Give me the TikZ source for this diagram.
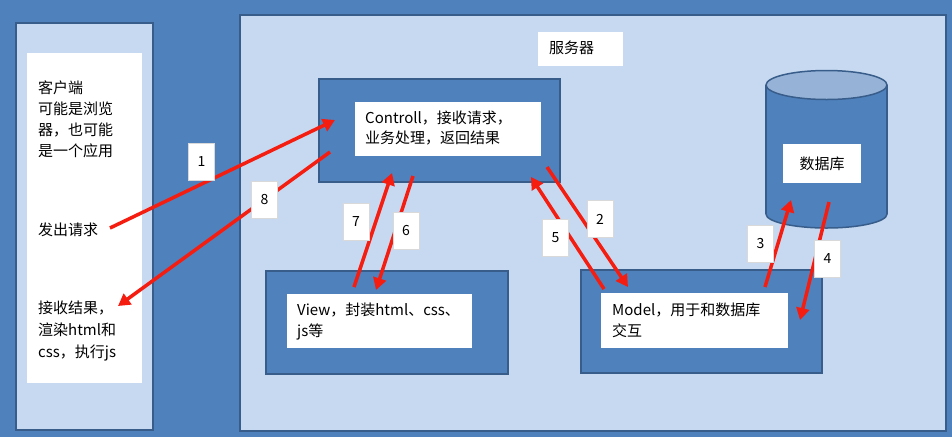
\documentclass[tikz,border=0pt]{standalone}
\usepackage{fontspec}
\setmainfont{Noto Sans CJK SC}
\usetikzlibrary{arrows.meta}
\definecolor{bgblue}{RGB}{79,129,189}
\definecolor{edgeblue}{RGB}{56,93,138}
\definecolor{paleblue}{RGB}{198,217,240}
\definecolor{topblue}{RGB}{150,178,214}
\definecolor{flowred}{RGB}{245,28,16}
\begin{document}
\begin{tikzpicture}[x=1pt, y=-1pt,
  panel/.style={draw=edgeblue, line width=2.5pt, fill=paleblue, inner sep=0pt},
  block/.style={draw=edgeblue, line width=1.5pt, fill=bgblue, inner sep=0pt},
  card/.style={fill=white, inner sep=0pt},
  words/.style={anchor=west, align=left, inner sep=0pt, font=\fontsize{15}{21}\selectfont},
  numcard/.style={fill=white, draw=black!15, inner sep=0pt, minimum width=26pt, minimum height=37pt, font=\fontsize{14}{16}\selectfont},
  flow/.style={-{Triangle[length=12pt,width=13pt]}, draw=flowred, line width=3.5pt}]
\useasboundingbox (0,0) rectangle (952,437);
\fill[bgblue] (0,0) rectangle (952,437);
% client side
\node[panel, minimum width=137pt, minimum height=407pt] (client) at (84.5,226.5) {};
\node[card, minimum width=115pt, minimum height=330pt] (clientcard) at (84.5,218) {};
\node[words] (clientname) at (38,119.5) {客户端\\可能是浏览\\器，也可能\\是一个应用};
\node[words] (req) at (38,230) {发出请求};
\node[words, font=\fontsize{15}{22}\selectfont] (res) at (38,331) {接收结果，\\渲染html和\\css，执行js};
% server side
\node[panel, minimum width=706pt, minimum height=416pt] (server) at (593,223) {};
\node[card, minimum width=85pt, minimum height=34pt] (servercard) at (580.5,49) {};
\node[words] (servername) at (549,48) {服务器};
\node[block, minimum width=241pt, minimum height=103pt] (ctrl) at (439.5,130.5) {};
\node[card, minimum width=186pt, minimum height=54pt] (ctrlcard) at (448,129) {};
\node[words, font=\fontsize{15}{20}\selectfont] (ctrltext) at (365,128) {Controll，接收请求，\\业务处理，返回结果};
\node[block, minimum width=242pt, minimum height=103pt] (view) at (387,322.5) {};
\node[card, minimum width=185pt, minimum height=54pt] (viewcard) at (379.5,321) {};
\node[words] (viewtext) at (297,321.5) {View，封装html、css、\\js等};
\node[block, minimum width=241pt, minimum height=103pt] (model) at (701.5,321.5) {};
\node[card, minimum width=187pt, minimum height=55pt] (modelcard) at (694.5,320.5) {};
\node[words] (modeltext) at (612,320.5) {Model，用于和数据库\\交互};
% database
\draw[draw=edgeblue, line width=1.5pt, fill=bgblue] (826.5,214) ellipse [x radius=60.5, y radius=14];
\fill[bgblue] (766,85) rectangle (887,214);
\draw[draw=edgeblue, line width=1.5pt] (766,85) -- (766,214) (887,85) -- (887,214);
\draw[draw=edgeblue, line width=1.5pt, fill=topblue] (826.5,85) ellipse [x radius=60.5, y radius=14.5];
\node[card, minimum width=78pt, minimum height=39pt, font=\fontsize{15}{21}\selectfont] (db) at (822,163.5) {数据库};
% arrow ends
\coordinate (reqout) at (110,228);
\coordinate (ctrlin) at (335,120);
\coordinate (ctrlout) at (330,152);
\coordinate (resin) at (118,306);
\coordinate (ctrlmodel) at (547,167);
\coordinate (modelin) at (628,287);
\coordinate (modelup) at (765,287);
\coordinate (dbin) at (791,200);
\coordinate (dbout) at (829,202);
\coordinate (modeldb) at (800,320);
\coordinate (modelout) at (604,289);
\coordinate (ctrlback) at (531,177);
\coordinate (ctrlview) at (413,176);
\coordinate (viewin) at (376,290);
\coordinate (viewout) at (354,287);
\coordinate (ctrlret) at (392,173);
\path (reqout) edge[flow] (ctrlin);
\path (ctrlmodel) edge[flow] (modelin);
\path (modelup) edge[flow] (dbin);
\path (dbout) edge[flow] (modeldb);
\path (modelout) edge[flow] (ctrlback);
\path (ctrlview) edge[flow] (viewin);
\path (viewout) edge[flow] (ctrlret);
\path (ctrlout) edge[flow] (resin);
% step numbers
\node[numcard] (n1) at (201.5,162) {1};
\node[numcard] (n2) at (600,219) {2};
\node[numcard] (n3) at (760.5,244) {3};
\node[numcard] (n4) at (827.5,258.5) {4};
\node[numcard] (n5) at (555.5,237.5) {5};
\node[numcard] (n6) at (406,231) {6};
\node[numcard] (n7) at (356,222) {7};
\node[numcard] (n8) at (264.5,199.5) {8};
\end{tikzpicture}
\end{document}
